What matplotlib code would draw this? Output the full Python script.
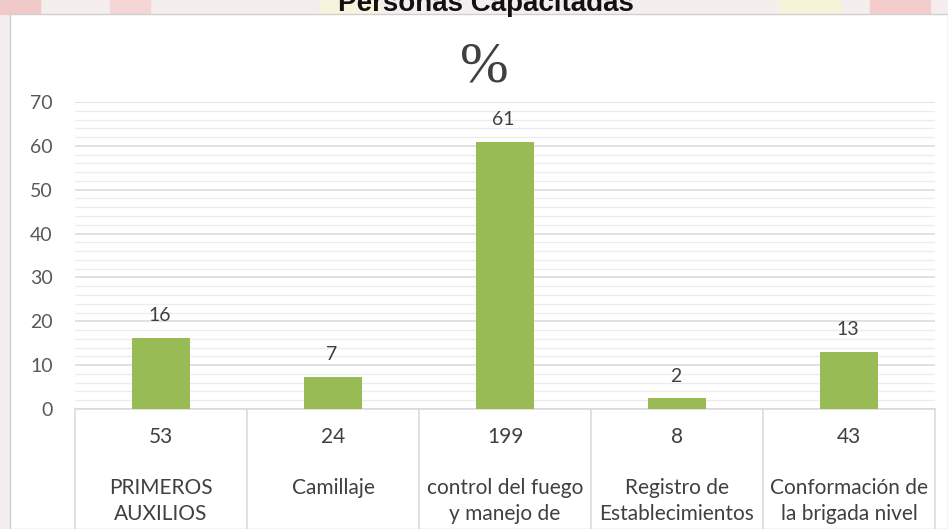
import matplotlib.pyplot as plt
from matplotlib.patches import Rectangle

# Data
categories = ["PRIMEROS\nAUXILIOS", "Camillaje", "control del fuego\ny manejo de",
              "Registro de\nEstablecimientos", "Conformación de\nla brigada nivel"]
personas = [53, 24, 199, 8, 43]
porcentaje = [16.2, 7.3, 60.9, 2.4, 13.1]
etiquetas = ["16", "7", "61", "2", "13"]

W, H = 948, 529
fig = plt.figure(figsize=(W / 100, H / 100), dpi=100)
fig.patch.set_facecolor("#f4eeee")

# faded background picture strip + white chart area
for x0, w, c in [(0, 40, "#f2c9c9"), (110, 40, "#f5d5d5"), (320, 60, "#f7f3dc"),
                 (780, 60, "#f6f3d8"), (870, 60, "#f4cccc")]:
    fig.patches.append(Rectangle((x0 / W, 1 - 14 / H), w / W, 14 / H,
                                 transform=fig.transFigure, color=c, zorder=-10))
fig.patches.append(Rectangle((10 / W, 0), (W - 10) / W, 1 - 14 / H,
                             transform=fig.transFigure, facecolor="white",
                             edgecolor="#d0d0d0", linewidth=1, zorder=-9))

fig.text(486 / W, 1 - 11 / H, "Personas Capacitadas", ha="center", va="baseline",
         fontsize=20, fontweight="bold", family="Liberation Sans", color="#111111")
fig.text(484 / W, 1 - 67 / H, "%", ha="center", va="center",
         fontsize=42, family="Liberation Serif", color="#404040")

px_top, px_zero = 102, 409
ax = fig.add_axes([75 / W, (H - px_zero) / H, 860 / W, (px_zero - px_top) / H])
ax.set_facecolor("none")

x = list(range(len(categories)))
ax.bar(x, porcentaje, width=0.335, color="#98bb55", zorder=3)
for xi, v, t in zip(x, porcentaje, etiquetas):
    ax.annotate(t, (xi, v), xytext=(-1, 10), textcoords="offset points",
                ha="center", va="bottom", fontsize=14, family="Lato", color="#404040")

ax.set_xlim(-0.5, len(categories) - 0.5)
ax.set_ylim(0, 70)
ax.set_yticks(range(0, 71, 10))
ax.set_yticks(range(0, 71, 2), minor=True)
ax.grid(which="major", axis="y", color="#d9d9d9", linewidth=1.1, zorder=0)
ax.grid(which="minor", axis="y", color="#ececec", linewidth=0.9, zorder=0)
ax.tick_params(axis="y", which="both", length=0, pad=16, labelsize=14,
               labelcolor="#595959")
for lab in ax.get_yticklabels():
    lab.set_family("Lato")
ax.set_xticks([])
for s in ax.spines.values():
    s.set_visible(False)

# category table below the axis
unit = px_zero - px_top
ybot = -(H - px_zero + 5) / unit
trans = ax.get_xaxis_transform()
ax.plot([-0.5, len(categories) - 0.5], [0, 0], color="#d9d9d9", lw=1.1,
        transform=trans, clip_on=False)
for b in range(len(categories) + 1):
    ax.plot([b - 0.5, b - 0.5], [0, ybot], color="#d9d9d9", lw=1.1,
            transform=trans, clip_on=False)
for xi, n, c in zip(x, personas, categories):
    ax.text(xi, -(437 - px_zero) / unit, str(n), transform=trans, ha="center",
            va="center", fontsize=15, family="Lato", color="#404040")
    ax.text(xi, -(478 - px_zero) / unit, c, transform=trans, ha="center",
            va="top", fontsize=15, family="Lato", color="#404040", linespacing=1.35)

fig.savefig("out.png", dpi=100, facecolor=fig.get_facecolor())
